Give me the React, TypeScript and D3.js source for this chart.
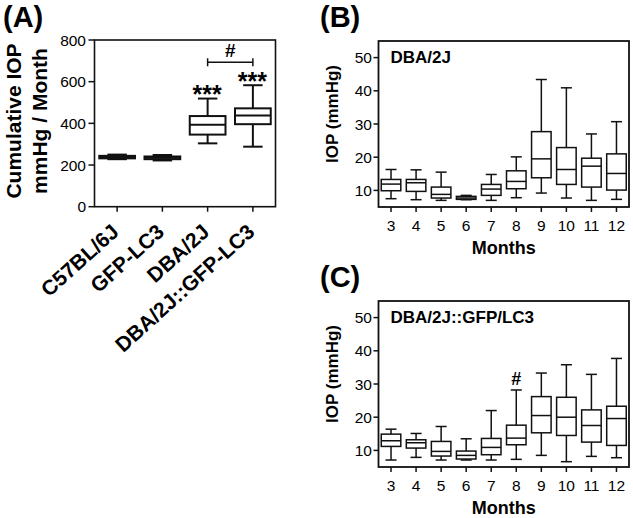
import React from 'react';
import * as d3 from 'd3';

const FONT = '"Liberation Sans", Arial, Helvetica, sans-serif';

// Panel A data
const groupsA = ['C57BL/6J', 'GFP-LC3', 'DBA/2J', 'DBA/2J::GFP-LC3'];
const minA = [228, 222, 304, 288];
const q1A = [232, 228, 346, 396];
const medA = [238, 235, 393, 438];
const q3A = [244, 241, 435, 472];
const maxA = [250, 248, 519, 583];
const ticksA = [0, 200, 400, 600, 800];
const starsA = ['', '', '***', '***'];

// Panels B, C data
const months = ['3', '4', '5', '6', '7', '8', '9', '10', '11', '12'];
const ticksBC = [10, 20, 30, 40, 50];

const minB = [7.5, 7.2, 7.0, 7.2, 7.0, 7.8, 9.2, 7.7, 7.0, 7.3];
const q1B = [9.9, 9.7, 7.7, 7.3, 8.5, 10.5, 13.8, 11.8, 11.0, 10.1];
const medB = [11.9, 12.3, 8.8, 7.7, 10.4, 12.7, 19.5, 16.3, 17.3, 15.1];
const q3B = [13.3, 13.3, 11.0, 8.2, 11.8, 15.9, 27.7, 22.9, 19.7, 21.0];
const maxB = [16.3, 16.2, 15.5, 8.5, 14.8, 20.1, 43.4, 40.9, 27.0, 30.7];

const minC = [7.1, 7.9, 7.1, 7.1, 7.1, 7.3, 8.5, 6.6, 8.2, 7.8];
const q1C = [11.2, 10.7, 8.3, 7.4, 8.7, 11.7, 15.3, 14.5, 12.5, 11.5];
const medC = [12.9, 12.3, 9.7, 8.5, 10.9, 13.7, 20.5, 20.0, 17.5, 19.6];
const q3C = [14.9, 13.2, 12.7, 9.8, 13.6, 17.6, 26.2, 26.0, 22.2, 23.3];
const maxC = [16.4, 15.1, 17.2, 13.5, 22.0, 28.2, 33.3, 35.8, 32.9, 37.7];

type Stats = { min: number; q1: number; med: number; q3: number; max: number };

function BoxMark({ cx, w, capW, y, s, sw }: { cx: number; w: number; capW: number; y: (v: number) => number; s: Stats; sw: number }) {
  return (
    <g stroke="#111" strokeWidth={sw} fill="none">
      <line x1={cx} x2={cx} y1={y(s.max)} y2={y(s.q3)} />
      <line x1={cx} x2={cx} y1={y(s.q1)} y2={y(s.min)} />
      <line x1={cx - capW / 2} x2={cx + capW / 2} y1={y(s.max)} y2={y(s.max)} />
      <line x1={cx - capW / 2} x2={cx + capW / 2} y1={y(s.min)} y2={y(s.min)} />
      <rect x={cx - w / 2} y={y(s.q3)} width={w} height={Math.max(0.5, y(s.q1) - y(s.q3))} fill="#fff" />
      <line x1={cx - w / 2} x2={cx + w / 2} y1={y(s.med)} y2={y(s.med)} />
    </g>
  );
}

function PanelA() {
  const x = d3.scaleBand<string>().domain(groupsA).range([94.5, 275.5]).padding(0);
  const y = d3.scaleLinear().domain([0, 800]).range([206.7, 40]);
  const bw = x.bandwidth();
  const [x0, x1] = x.range();
  const [yb, yt] = y.range();
  const c2 = (x('DBA/2J') as number) + bw / 2;
  const c3 = (x('DBA/2J::GFP-LC3') as number) + bw / 2;
  const yBr = y(693);
  return (
    <g>
      <text x={3} y={27} fontFamily={FONT} fontWeight="bold" fontSize={29}>(A)</text>
      <text transform={`translate(21,121) rotate(-90)`} textAnchor="middle" fontFamily={FONT} fontWeight="bold" fontSize={21}>Cumulative IOP</text>
      <text transform={`translate(46.5,121) rotate(-90)`} textAnchor="middle" fontFamily={FONT} fontWeight="bold" fontSize={21}>mmHg / Month</text>
      {ticksA.map((t) => (
        <g key={t}>
          <line x1={x0 - 6} x2={x0} y1={y(t)} y2={y(t)} stroke="#111" strokeWidth={1.5} />
          <text x={x0 - 8.5} y={y(t)} dy="0.36em" textAnchor="end" fontFamily={FONT} fontSize={15.5}>{t}</text>
        </g>
      ))}
      {groupsA.map((g, i) => {
        const cx = (x(g) as number) + bw / 2;
        return (
          <g key={g}>
            <line x1={cx} x2={cx} y1={yb} y2={yb + 5} stroke="#111" strokeWidth={1.5} />
            <text transform={`translate(${cx + 3},${yb + 27}) rotate(-42)`} textAnchor="end" fontFamily={FONT} fontWeight="bold" fontSize={21}>{g}</text>
            <BoxMark cx={cx} w={bw * 0.79} capW={bw * 0.43} y={y} s={{ min: minA[i], q1: q1A[i], med: medA[i], q3: q3A[i], max: maxA[i] }} sw={2} />
            {starsA[i] && (
              <text x={cx - 0.5} y={y(maxA[i]) + 4.5} textAnchor="middle" fontFamily={FONT} fontWeight="bold" fontSize={25}>{starsA[i]}</text>
            )}
          </g>
        );
      })}
      <rect x={x0} y={yt} width={x1 - x0} height={yb - yt} fill="none" stroke="#111" strokeWidth={1.6} />
      <g stroke="#111" strokeWidth={1.5}>
        <line x1={c2} x2={c3} y1={yBr} y2={yBr} />
        <line x1={c2} x2={c2} y1={yBr - 4} y2={yBr + 4} />
        <line x1={c3} x2={c3} y1={yBr - 4} y2={yBr + 4} />
      </g>
      <text x={(c2 + c3) / 2} y={57} textAnchor="middle" fontFamily={FONT} fontWeight="bold" fontSize={19}>#</text>
    </g>
  );
}

function PanelBC({ top, letter, title, mins, q1s, meds, q3s, maxs, hashIdx }: {
  top: number; letter: string; title: string; mins: number[]; q1s: number[]; meds: number[]; q3s: number[]; maxs: number[]; hashIdx?: number;
}) {
  const x = d3.scaleBand<string>().domain(months).range([378.5, 629]).padding(0);
  const y = d3.scaleLinear().domain([5, 55]).range([top + 166, top]);
  const bw = x.bandwidth();
  const [x0, x1] = x.range();
  const [yb, yt] = y.range();
  return (
    <g>
      <text x={320} y={top - 14} fontFamily={FONT} fontWeight="bold" fontSize={29}>{letter}</text>
      <text transform={`translate(338,${top + 73}) rotate(-90)`} textAnchor="middle" fontFamily={FONT} fontWeight="bold" fontSize={17}>IOP (mmHg)</text>
      <text x={(x0 + x1) / 2} y={top + 213} textAnchor="middle" fontFamily={FONT} fontWeight="bold" fontSize={18}>Months</text>
      {ticksBC.map((t) => (
        <g key={t}>
          <line x1={x0 - 5} x2={x0} y1={y(t)} y2={y(t)} stroke="#111" strokeWidth={1.5} />
          <text x={x0 - 6.5} y={y(t)} dy="0.36em" textAnchor="end" fontFamily={FONT} fontSize={15.5}>{t}</text>
        </g>
      ))}
      {months.map((m, i) => {
        const cx = (x(m) as number) + bw / 2;
        return (
          <g key={m}>
            <line x1={cx} x2={cx} y1={yb} y2={yb + 5} stroke="#111" strokeWidth={1.5} />
            <text x={cx} y={yb + 24} textAnchor="middle" fontFamily={FONT} fontSize={15.5}>{m}</text>
            <BoxMark cx={cx} w={bw * 0.78} capW={bw * 0.44} y={y} s={{ min: mins[i], q1: q1s[i], med: meds[i], q3: q3s[i], max: maxs[i] }} sw={1.5} />
            {hashIdx === i && (
              <text x={cx} y={y(maxs[i]) - 5} textAnchor="middle" fontFamily={FONT} fontWeight="bold" fontSize={18}>#</text>
            )}
          </g>
        );
      })}
      <rect x={x0} y={yt} width={x1 - x0} height={yb - yt} fill="none" stroke="#111" strokeWidth={1.8} />
      <text x={x0 + 12} y={yt + 21.5} fontFamily={FONT} fontWeight="bold" fontSize={17}>{title}</text>
    </g>
  );
}

export default function App() {
  return (
    <svg width={633} height={518} viewBox="0 0 633 518" style={{ position: 'absolute', left: 0, top: 0, background: '#fff' }}>
      <rect x={0} y={0} width={633} height={518} fill="#fff" />
      <PanelA />
      <PanelBC top={41} letter="(B)" title="DBA/2J" mins={minB} q1s={q1B} meds={medB} q3s={q3B} maxs={maxB} />
      <PanelBC top={301} letter="(C)" title="DBA/2J::GFP/LC3" mins={minC} q1s={q1C} meds={medC} q3s={q3C} maxs={maxC} hashIdx={5} />
    </svg>
  );
}
